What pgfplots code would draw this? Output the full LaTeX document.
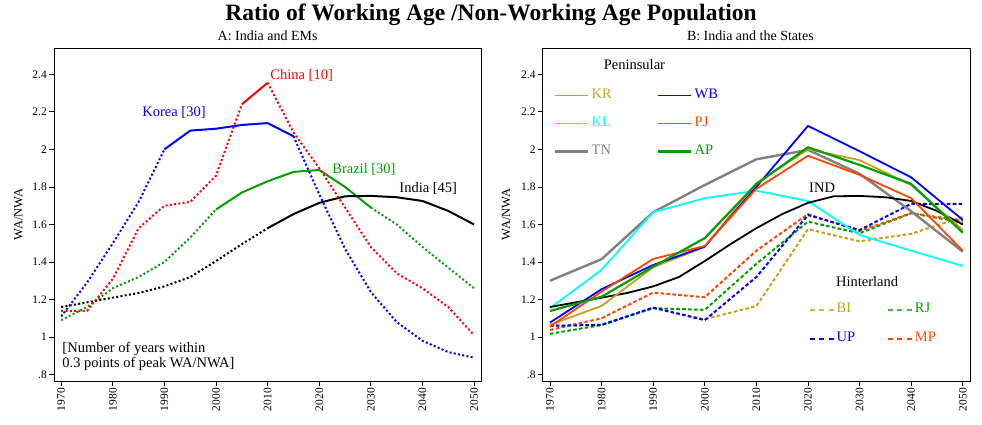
\documentclass[border=0pt]{standalone}
\usepackage{fontspec}
\setmainfont{Liberation Serif}
\usepackage{pgfplots}
\pgfplotsset{compat=1.18}
\definecolor{kr}{RGB}{200,160,30}
\definecolor{kl}{RGB}{0,255,255}
\definecolor{tn}{RGB}{128,128,128}
\definecolor{wb}{RGB}{0,0,255}
\definecolor{pj}{RGB}{255,69,0}
\definecolor{ap}{RGB}{0,160,0}
\definecolor{cn}{RGB}{255,0,0}
\newcommand\annfont{\fontsize{14.5}{16}\selectfont}
\newcommand\tickfont{\fontsize{11.5}{12}\selectfont}
\pgfplotsset{
  panel/.style={
    scale only axis, width=427.3pt, height=333pt, anchor=south west,
    xmin=1968.6, xmax=2051.4, ymin=0.766, ymax=2.54,
    xtick={1970,1980,...,2050},
    ytick={0.8,1,1.2,1.4,1.6,1.8,2,2.2,2.4},
    yticklabels={.8,1,1.2,1.4,1.6,1.8,2,2.2,2.4},
    tick align=outside, tick pos=left, major tick length=5pt,
    /pgf/number format/assume math mode=true,
    /pgf/number format/1000 sep={},
    xticklabel style={rotate=90, anchor=east, font=\tickfont, inner sep=2pt},
    yticklabel style={font=\tickfont, inner sep=2pt},
    axis line style={line width=0.8pt},
    every tick/.style={black, line width=0.8pt},
    ylabel={WA/NWA},
    ylabel style={font=\fontsize{12.5}{13}\selectfont, anchor=center},
    title style={anchor=base, font=\fontsize{14}{15}\selectfont},
    clip=false,
  },
  dotl/.style={line width=2pt, dash pattern=on 2pt off 2.3pt},
  soll/.style={line width=2pt},
  dashl/.style={line width=2pt, dash pattern=on 3.6pt off 2.3pt},
  penthin/.style={legend image code/.code={\fill[draw=none, fill=#1] (0pt,-0.7pt) rectangle (33pt,0.7pt); \path[draw=none, fill=none] (0pt,0pt) -- (36.7pt,0pt);}},
  penthick/.style={legend image code/.code={\fill[draw=none, fill=#1] (0pt,-1.3pt) rectangle (33pt,1.3pt); \path[draw=none, fill=none] (0pt,0pt) -- (36.7pt,0pt);}},
  hinleg/.style={legend image code/.code={\draw[draw=#1, line width=1.2pt, dash pattern=on 5pt off 4.5pt] (0pt,0pt) -- (24pt,0pt); \path[draw=none, fill=none] (0pt,0pt) -- (27pt,0pt);}},
}
\begin{document}
\begin{tikzpicture}
\useasboundingbox (0pt,0pt) rectangle (982pt,425pt);
\node[font=\bfseries\fontsize{23.5}{25}\selectfont, anchor=base, inner sep=0pt] at (491pt,404.3pt) {Ratio of Working Age /Non-Working Age Population};

% ---------------- Panel A ----------------
\begin{axis}[panel, at={(54pt,44pt)},
  title={A: India and EMs}, title style={at={(0.5,1)}, yshift=1.3pt},
  ylabel style={at={(axis description cs:-0.0836,0.5)}}]
% Brazil
\addplot[ap, dotl] coordinates {(1970,1.09)(1975,1.16)(1980,1.26)(1985,1.32)(1990,1.40)(1995,1.53)(2000,1.68)};
\addplot[ap, soll] coordinates {(2000,1.68)(2005,1.77)(2010,1.83)(2015,1.88)(2020,1.89)(2025,1.80)(2030,1.69)};
\addplot[ap, dotl] coordinates {(2030,1.69)(2035,1.60)(2040,1.48)(2045,1.37)(2050,1.26)};
% India
\addplot[black, dotl] coordinates {(1970,1.16)(1975,1.185)(1980,1.21)(1985,1.235)(1990,1.27)(1995,1.32)(2000,1.405)(2005,1.495)(2010,1.58)};
\addplot[black, soll] coordinates {(2010,1.58)(2015,1.655)(2020,1.715)(2025,1.75)(2030,1.752)(2035,1.745)(2040,1.725)(2045,1.672)(2050,1.60)};
% Korea
\addplot[wb, dotl] coordinates {(1970,1.11)(1975,1.29)(1980,1.50)(1985,1.72)(1990,2.00)};
\addplot[wb, soll] coordinates {(1990,2.00)(1995,2.10)(2000,2.11)(2005,2.13)(2010,2.14)(2015,2.07)};
\addplot[wb, dotl] coordinates {(2015,2.07)(2020,1.76)(2025,1.47)(2030,1.24)(2035,1.08)(2040,0.98)(2045,0.92)(2050,0.89)};
% China
\addplot[cn, dotl] coordinates {(1970,1.14)(1975,1.14)(1980,1.31)(1985,1.58)(1990,1.70)(1995,1.72)(2000,1.86)(2005,2.24)};
\addplot[cn, soll] coordinates {(2005,2.24)(2010,2.355)};
\addplot[cn, dotl] coordinates {(2010,2.355)(2015,2.09)(2020,1.90)(2025,1.69)(2030,1.48)(2035,1.34)(2040,1.26)(2045,1.16)(2050,1.01)};
\node[anchor=base west, inner sep=0pt, text=cn, font=\annfont] at (axis cs:2010.5,2.373) {China [10]};
\node[anchor=base west, inner sep=0pt, text=wb, font=\annfont] at (axis cs:1985.7,2.174) {Korea [30]};
\node[anchor=base west, inner sep=0pt, text=ap, font=\annfont] at (axis cs:2022.5,1.873) {Brazil [30]};
\node[anchor=base west, inner sep=0pt, text=black, font=\annfont] at (axis cs:2035.5,1.769) {India [45]};
\node[anchor=base west, inner sep=0pt, font=\annfont] at (axis cs:1970.2,0.916) {[Number of years within};
\node[anchor=base west, inner sep=0pt, font=\annfont] at (axis cs:1970.2,0.836) {0.3 points of peak WA/NWA]};
\end{axis}

% ---------------- Panel B ----------------
\begin{axis}[panel, at={(542.7pt,44pt)},
  title={B: India and the States}, title style={at={(0.486,1)}, yshift=1.3pt},
  ylabel style={at={(axis description cs:-0.0859,0.5)}},
  legend columns=2, legend cell align=left,
  legend style={draw=none, fill=none, inner sep=0pt, outer sep=0pt,
    at={(axis description cs:0,1)}, anchor=north west, xshift=12.3pt, yshift=-41.3pt,
    column sep=0pt, row sep=16pt,
    nodes={inner sep=0pt, text height=9pt, text depth=3pt, font=\annfont}}]
% Hinterland
\addplot[kr, dashl, forget plot] coordinates {(1970,1.06)(1980,1.065)(1990,1.155)(2000,1.095)(2010,1.165)(2020,1.575)(2030,1.51)(2040,1.55)(2050,1.64)};
\addplot[ap, dashl, forget plot] coordinates {(1970,1.017)(1980,1.064)(1990,1.154)(2000,1.145)(2010,1.39)(2020,1.615)(2030,1.553)(2040,1.66)(2050,1.61)};
\addplot[pj, dashl, forget plot] coordinates {(1970,1.038)(1980,1.10)(1990,1.237)(2000,1.212)(2010,1.46)(2020,1.655)(2030,1.565)(2040,1.66)(2050,1.62)};
\addplot[wb, dashl, forget plot] coordinates {(1970,1.06)(1980,1.065)(1990,1.157)(2000,1.09)(2010,1.32)(2020,1.65)(2030,1.57)(2040,1.71)(2050,1.71)};
% Peninsular
\addplot[tn, line width=2.4pt, forget plot] coordinates {(1970,1.30)(1980,1.415)(1990,1.665)(2000,1.81)(2010,1.947)(2020,1.997)(2030,1.87)(2040,1.67)(2050,1.455)};
\addplot[kl, line width=1.8pt, forget plot] coordinates {(1970,1.154)(1980,1.358)(1990,1.665)(2000,1.74)(2010,1.78)(2020,1.725)(2030,1.544)(2040,1.46)(2050,1.379)};
\addplot[black, line width=1.8pt, forget plot] coordinates {(1970,1.16)(1975,1.185)(1980,1.21)(1985,1.235)(1990,1.27)(1995,1.32)(2000,1.405)(2005,1.495)(2010,1.58)(2015,1.655)(2020,1.715)(2025,1.75)(2030,1.752)(2035,1.745)(2040,1.725)(2045,1.672)(2050,1.60)};
\addplot[kr, line width=1.8pt, forget plot] coordinates {(1970,1.065)(1980,1.166)(1990,1.372)(2000,1.48)(2010,1.82)(2020,2.00)(2030,1.943)(2040,1.81)(2050,1.57)};
\addplot[wb, line width=1.8pt, forget plot] coordinates {(1970,1.077)(1980,1.255)(1990,1.384)(2000,1.482)(2010,1.80)(2020,2.125)(2030,1.99)(2040,1.851)(2050,1.624)};
\addplot[pj, line width=1.8pt, forget plot] coordinates {(1970,1.056)(1980,1.242)(1990,1.416)(2000,1.485)(2010,1.79)(2020,1.966)(2030,1.864)(2040,1.74)(2050,1.46)};
\addplot[ap, line width=2.2pt, forget plot] coordinates {(1970,1.139)(1980,1.215)(1990,1.375)(2000,1.527)(2010,1.815)(2020,2.011)(2030,1.917)(2040,1.816)(2050,1.556)};
% legend
\addlegendimage{penthin=kr}\addlegendentry{\makebox[66.3pt][l]{\textcolor{kr}{KR}}}
\addlegendimage{penthin=wb}\addlegendentry{\textcolor{wb}{WB}}
\addlegendimage{penthin=kl}\addlegendentry{\makebox[66.3pt][l]{\textcolor{kl}{KL}}}
\addlegendimage{penthin=pj}\addlegendentry{\textcolor{pj}{PJ}}
\addlegendimage{penthick=tn}\addlegendentry{\makebox[66.3pt][l]{\textcolor{tn}{TN}}}
\addlegendimage{penthick=ap}\addlegendentry{\textcolor{ap}{AP}}
\node[anchor=base west, inner sep=0pt, font=\annfont] at (axis cs:1980.4,2.423) {Peninsular};
\node[anchor=base west, inner sep=0pt, font=\annfont] at (axis cs:2020.2,1.771) {IND};
\node[anchor=base west, inner sep=0pt, font=\annfont] at (axis cs:2025.4,1.272) {Hinterland};
\end{axis}

% Hinterland legend
\begin{axis}[scale only axis, width=427.3pt, height=333pt, anchor=south west, at={(542.7pt,44pt)},
  hide axis, xmin=0, xmax=1, ymin=0, ymax=1,
  legend columns=2, legend cell align=left,
  legend style={draw=none, fill=none, inner sep=0pt, outer sep=0pt,
    at={(axis description cs:0,1)}, anchor=north west, xshift=266.3pt, yshift=-256pt,
    column sep=0pt, row sep=17pt,
    nodes={inner sep=0pt, text height=9pt, text depth=3pt, font=\annfont}}]
\addlegendimage{hinleg={kr!80!white}}\addlegendentry{\makebox[50.7pt][l]{\textcolor{kr}{BI}}}
\addlegendimage{hinleg={ap!75!white}}\addlegendentry{\textcolor{ap}{RJ}}
\addlegendimage{hinleg={wb}}\addlegendentry{\makebox[50.7pt][l]{\textcolor{wb}{UP}}}
\addlegendimage{hinleg={pj}}\addlegendentry{\textcolor{pj}{MP}}
\end{axis}
\end{tikzpicture}
\end{document}
